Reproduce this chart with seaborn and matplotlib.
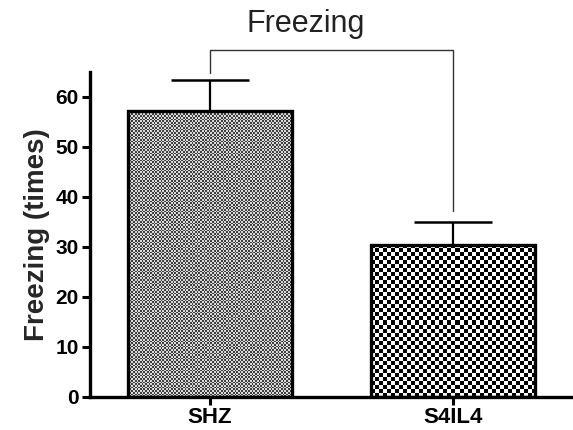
import numpy as np
import pandas as pd
import matplotlib
matplotlib.use("Agg")
import matplotlib.pyplot as plt
import seaborn as sns

groups = ["SHZ", "S4IL4"]
means = [57.2, 30.4]
sems = [6.2, 4.6]
yticks = [0, 10, 20, 30, 40, 50, 60]
title = "Freezing"
ylabel = "Freezing (times)"

sns.set_style("ticks")
plt.rcParams["font.family"] = ["Liberation Sans", "DejaVu Sans"]

fig = plt.figure(figsize=(5.73, 4.30), dpi=100)
ax = fig.add_axes([0.157, 0.077, 0.843, 0.756])

df = pd.DataFrame({"group": groups, "value": means})
sns.barplot(data=df, x="group", y="value", color="white", edgecolor="black",
            linewidth=2.4, width=0.675, ax=ax, errorbar=None, zorder=3)

ax.errorbar(range(len(groups)), means, yerr=[np.zeros(len(sems)), sems],
            fmt="none", ecolor="black", elinewidth=1.6, capsize=28,
            capthick=1.8, zorder=2)

ax.set_xlim(-0.494, 1.494)
ax.set_ylim(0, 65)
ax.set_yticks(yticks)
ax.set_xlabel("")
ax.set_ylabel(ylabel, fontsize=20, fontweight="bold", labelpad=4)
ax.tick_params(axis="both", labelsize=15, width=2.2, length=6, color="black",
               labelcolor="black", pad=2)
ax.tick_params(axis="x", labelsize=16, pad=1.5)
for lab in ax.get_yticklabels() + ax.get_xticklabels():
    lab.set_fontweight("bold")
for s in ["left", "bottom"]:
    ax.spines[s].set_linewidth(2.4)
    ax.spines[s].set_color("black")
sns.despine(ax=ax)

fig.canvas.draw()
# patterns: fine dots for SHZ, checkerboard for S4IL4
cell_px = [1.7, 4.0]
for i, p in enumerate(ax.patches[:len(groups)]):
    x0, y0, w, h = p.get_x(), p.get_y(), p.get_width(), p.get_height()
    bb = p.get_window_extent()
    nx = max(2, int(round(bb.width / cell_px[i])))
    ny = max(2, int(round(bb.height / cell_px[i])))
    yy, xx = np.mgrid[0:ny, 0:nx]
    board = ((xx + yy) % 2).astype(float)
    if i == 0:
        img = np.where(board > 0, 0.85, 0.25)
    else:
        img = np.where(board > 0, 1.0, 0.0)
    im = ax.imshow(img, cmap="gray", vmin=0, vmax=1, extent=(x0, x0 + w, y0, y0 + h),
                   interpolation="nearest", aspect="auto", zorder=2.5)
    im.set_clip_path(p)
    p.set_facecolor("none")
ax.set_xlim(-0.494, 1.494)
ax.set_ylim(0, 65)

# bracket
top_y = 69.4
legs = [means[0] + sems[0] + 1.4, means[1] + sems[1] + 2.2]
ax.plot([0, 0, 1, 1], [legs[0], top_y, top_y, legs[1]], color="#333333",
        lw=1.0, clip_on=False, zorder=4)
ax.text(0.393, top_y + 2.2, title, ha="center", va="bottom", fontsize=22,
        color="#222222", clip_on=False)

fig.savefig("out.png", dpi=100)
